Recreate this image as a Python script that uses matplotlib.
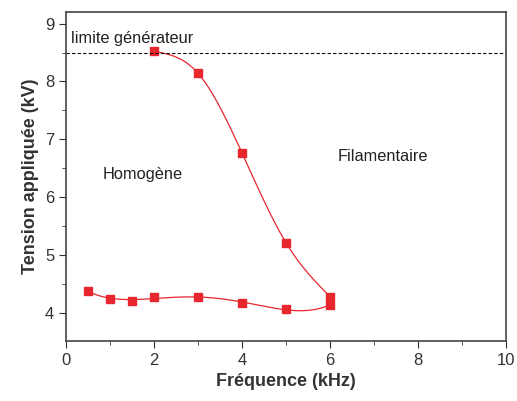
import numpy as np
import matplotlib
matplotlib.use("Agg")
import matplotlib.pyplot as plt
from matplotlib.ticker import MultipleLocator

plt.rcParams['font.family'] = ['Liberation Sans', 'DejaVu Sans']

# upper branch (transition homogene -> filamentaire)
freq_up = [2, 3, 4, 5, 6]
volt_up = [8.52, 8.14, 6.76, 5.21, 4.28]

# lower branch
freq_low = [0.5, 1, 1.5, 2, 3, 4, 5, 6]
volt_low = [4.38, 4.25, 4.21, 4.28, 4.28, 4.17, 4.07, 4.14]

limit_kv = 8.5
red = '#e8262e'


def natural_spline(x, y, xs):
    x = np.asarray(x, float)
    y = np.asarray(y, float)
    n = len(x)
    h = np.diff(x)
    A = np.zeros((n, n))
    b = np.zeros(n)
    A[0, 0] = A[-1, -1] = 1
    for i in range(1, n - 1):
        A[i, i - 1] = h[i - 1]
        A[i, i] = 2 * (h[i - 1] + h[i])
        A[i, i + 1] = h[i]
        b[i] = 6 * ((y[i + 1] - y[i]) / h[i] - (y[i] - y[i - 1]) / h[i - 1])
    M = np.linalg.solve(A, b)
    out = []
    for t in xs:
        k = min(np.searchsorted(x, t, side='right') - 1, n - 2)
        a = x[k + 1] - t
        c = t - x[k]
        out.append(M[k] * a**3 / (6 * h[k]) + M[k + 1] * c**3 / (6 * h[k])
                   + (y[k] / h[k] - M[k] * h[k] / 6) * a
                   + (y[k + 1] / h[k] - M[k + 1] * h[k] / 6) * c)
    return np.array(out)


fig = plt.figure(figsize=(5.17, 4.01), dpi=100)
ax = fig.add_axes([0.128, 0.150, 0.851, 0.820])

# smooth curves
xs = np.linspace(freq_up[0], freq_up[-1], 200)
ax.plot(xs, natural_spline(freq_up, volt_up, xs), color=red, lw=0.9)
c_low = np.polyfit(freq_low, volt_low, 4)
xs = np.linspace(freq_low[0], freq_low[-1], 200)
ax.plot(xs, np.polyval(c_low, xs), color=red, lw=0.9)

ax.plot(freq_up, volt_up, 's', color=red, ms=6)
ax.plot(freq_low, volt_low, 's', color=red, ms=6)

ax.axhline(limit_kv, color='black', lw=0.8, ls=(0, (3, 2)))

ax.text(0.12, 8.74, 'limite générateur', fontsize=11.8, va='center', color='#222222')
ax.text(1.73, 6.4, 'Homogène', fontsize=11.8, va='center', ha='center', color='#222222')
ax.text(7.2, 6.7, 'Filamentaire', fontsize=11.8, va='center', ha='center', color='#222222')

ax.set_xlim(0, 10)
ax.set_ylim(3.52, 9.2)
ax.xaxis.set_major_locator(MultipleLocator(2))
ax.xaxis.set_minor_locator(MultipleLocator(1))
ax.yaxis.set_major_locator(MultipleLocator(1))
ax.yaxis.set_minor_locator(MultipleLocator(0.5))
ax.tick_params(which='both', direction='out', labelsize=12, colors='#333333')
ax.tick_params(which='major', length=5)
ax.tick_params(which='minor', length=3)
for s in ax.spines.values():
    s.set_color('#444444')
    s.set_linewidth(1.2)

ax.set_xlabel('Fréquence (kHz)', fontsize=13, fontweight='bold', color='#333333')
ax.set_ylabel('Tension appliquée (kV)', fontsize=13, fontweight='bold', color='#333333')

fig.savefig('out.png', dpi=100)
